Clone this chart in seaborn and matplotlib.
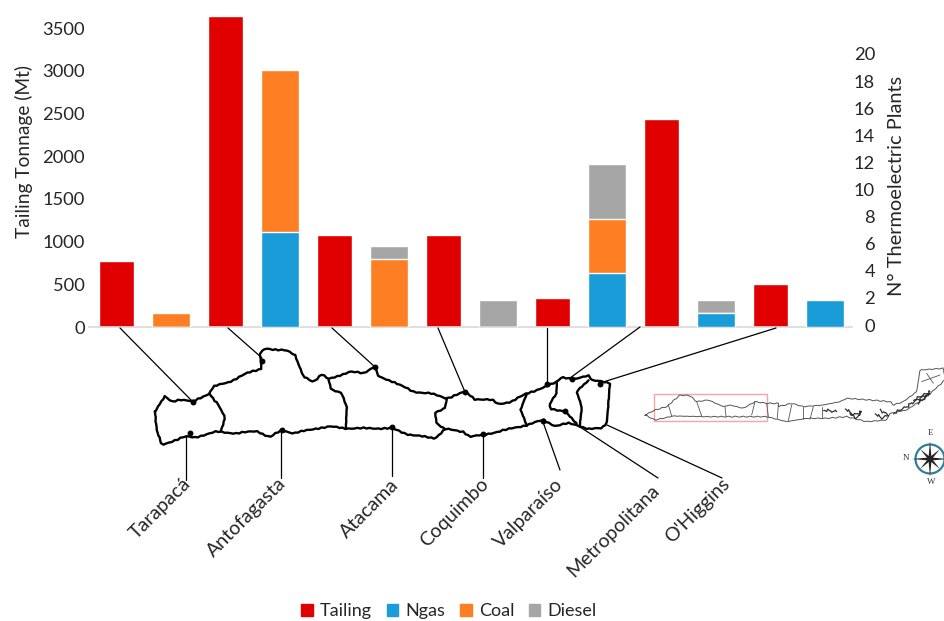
import numpy as np
import pandas as pd
import seaborn as sns
import matplotlib
matplotlib.use("Agg")
import matplotlib.pyplot as plt
from matplotlib.patches import Patch, Polygon, Rectangle, Circle
from matplotlib.transforms import ScaledTranslation

regions = ["Tarapacá", "Antofagasta", "Atacama", "Coquimbo", "Valparaíso", "Metropolitana", "O'Higgins"]
tailing = [770, 3640, 1080, 1080, 340, 2440, 500]
ngas = [0, 7, 0, 0, 4, 1, 2]
coal = [1, 12, 5, 0, 4, 0, 0]
diesel = [0, 0, 1, 2, 4, 1, 0]
left_ticks = [0, 500, 1000, 1500, 2000, 2500, 3000, 3500]
right_ticks = list(range(0, 21, 2))
colors = {"Tailing": "#E00000", "Ngas": "#1A9CD8", "Coal": "#FD7E23", "Diesel": "#A6A6A6"}

sns.set_theme(style="white")
plt.rcParams["font.family"] = ["Lato", "DejaVu Sans"]
TXT = "#262626"

W, H = 945, 621
fig = plt.figure(figsize=(W / 100, H / 100), dpi=100, facecolor="white")
ax = fig.add_axes([89.25 / W, 1 - 327 / H, 763 / W, 327 / H])
ax2 = ax.twinx()

slots = []
for r in regions:
    slots += [r + " tailing", r + " plants"]
df = pd.DataFrame({"slot": slots})
df["tailing"] = [v for t in tailing for v in (t, np.nan)]
n = np.array([v for t in ngas for v in (np.nan, t)], float)
c = np.array([v for t in coal for v in (np.nan, t)], float)
d = np.array([v for t in diesel for v in (np.nan, t)], float)
df["ngas"], df["ngas_coal"], df["total"] = n, n + c, n + c + d

sns.barplot(data=df, x="slot", y="tailing", order=slots, color=colors["Tailing"], width=0.63,
            saturation=1, ax=ax, errorbar=None)
for col, name in [("total", "Diesel"), ("ngas_coal", "Coal"), ("ngas", "Ngas")]:
    sns.barplot(data=df, x="slot", y=col, order=slots, color=colors[name], width=0.70,
                saturation=1, ax=ax2, errorbar=None)

ax.set_xlim(-0.5, 13.5)
ax.set_ylim(0, 327 / 0.0854)
ax2.set_ylim(0, 327 / 13.55)
ax.set_xticks([])
ax.set_xlabel("")
ax.set_ylabel("")
ax2.set_ylabel("")
ax.set_yticks(left_ticks)
ax2.set_yticks(right_ticks)
ax.tick_params(axis="y", length=0, pad=3, labelsize=13.2, labelcolor=TXT)
ax2.tick_params(axis="y", length=0, pad=16.5, labelsize=13.2, labelcolor=TXT)
for lab in ax2.get_yticklabels():
    lab.set_ha("right")
    lab.set_transform(lab.get_transform() + ScaledTranslation(0, 2 / 100, fig.dpi_scale_trans))
for a in (ax, ax2):
    for s in a.spines.values():
        s.set_visible(False)
ax.spines["bottom"].set_visible(True)
ax.spines["bottom"].set_color("#D9D9D9")
ax.spines["bottom"].set_linewidth(1.2)
ax.patch.set_alpha(0)

fig.text(24 / W, 1 - 151 / H, "Tailing Tonnage (Mt)", rotation=90, ha="center", va="center", fontsize=13.8, color=TXT)
fig.text(897 / W, 1 - 186 / H, "N° Thermoelectric Plants", rotation=90, ha="center", va="center", fontsize=14.4, color=TXT)

# overlay in pixel space for the map illustration
m = fig.add_axes([0, 0, 1, 1], facecolor="none")
m.set_xlim(0, W)
m.set_ylim(H, 0)
m.axis("off")

def rough(x, y, amp=0.8, step=3.0):
    """Give a hand-traced coastline look to a simplified outline."""
    d = np.r_[0, np.cumsum(np.hypot(np.diff(x), np.diff(y)))]
    s = np.arange(0, d[-1] + step, step)
    xs, ys = np.interp(s, d, x), np.interp(s, d, y)
    w = amp * (np.sin(s * 0.9) + 0.7 * np.sin(s * 2.3 + 1))
    return xs + 0.5 * w * np.cos(s * 0.37), ys + w

def z1(p):
    a = np.array(p, float)
    return 130 + a[:, 0] / 3, 330 + a[:, 1] / 3

def z2(p):
    a = np.array(p, float)
    return 640 + a[:, 0] / 3, 350 + a[:, 1] / 3

outline = [(75,245),(80,235),(105,200),(125,215),(150,208),(190,215),(238,190),(250,170),(300,155),(350,130),(395,115),
           (390,70),(405,55),(470,62),(495,75),(520,140),(550,155),(575,133),(595,148),(660,125),(700,130),(735,108),
           (745,140),(790,155),(850,185),(900,190),(950,205),(1005,185),(1035,207),(1085,210),(1105,222),(1145,215),
           (1190,190),(1250,170),(1280,155),(1295,140),(1330,150),(1375,135),(1385,150),(1440,160),(1430,280),(1415,295),
           (1375,297),(1340,285),(1315,280),(1275,288),(1240,270),(1190,285),(1060,315),(1020,320),(1000,305),(945,297),
           (915,325),(880,320),(830,312),(785,295),(700,295),(650,295),(600,290),(560,295),(490,310),(455,300),(420,322),
           (380,303),(320,310),(260,305),(195,322),(165,320),(95,345),(80,300),(75,245)]
borders = [[(238,190),(265,225),(285,262),(272,305)],
           [(595,148),(605,180),(635,190),(650,230),(648,295)],
           [(950,205),(945,235),(915,250),(920,280),(945,297)],
           [(1190,190),(1172,240),(1190,285)],
           [(1280,155),(1280,190),(1258,225),(1260,235),(1305,245),(1340,280)],
           [(1375,150),(1340,185),(1355,230),(1350,285)]]
for seg in [outline] + borders:
    x, y = rough(*z1(seg), amp=0.55)
    m.plot(x, y, color="black", lw=1.7, solid_joinstyle="round")

leaders = [((120,328),(193,402)), ((228,328),(262,358)), ((332,328),(375,367)), ((438,328),(465,392)),
           ((547,328),(547,384)), ((640,327),(570,378)), ((776,328),(600,383)),
           ((186,437),(186,480)), ((281,432),(281,478)), ((392,428),(392,476)), ((483,435),(483,478)),
           ((543,422),(560,470)), ((577,425),(658,478)), ((607,425),(722,478))]
for (x0, y0), (x1, y1) in leaders:
    m.plot([x0, x1], [y0, y1], color="black", lw=0.9)
dots = [(193,402),(262,361),(375,367),(465,392),(547,384),(572,379),(600,384),(190,433),(282,430),(392,427),(483,434),(543,421),(565,411)]
m.scatter(*zip(*dots), s=18, color="black", zorder=3, linewidths=0)

label_pos = [(160,508),(247,517),(369,509),(454,513),(529,513),(613,531),(698,511)]
for name, (x, y) in zip(regions, label_pos):
    m.text(x, y, name, rotation=45, ha="center", va="center", rotation_mode="anchor", fontsize=14, color=TXT)

# overview map
mini = [(15,195),(45,180),(80,170),(120,135),(150,137),(170,155),(205,150),(250,170),(270,165),(310,175),(345,155),(380,160),
        (415,160),(415,170),(455,160),(490,170),(550,165),(600,155),(620,145),(690,150),(750,155),(760,165),(790,155),
        (830,125),(840,60),(910,55),(915,90),(860,140),(800,180),(750,190),(740,210),(680,215),(620,200),(560,205),
        (500,205),(440,215),(380,200),(300,200),(200,200),(100,198),(45,210),(15,195)]
x, y = rough(*z2(mini), amp=0.35, step=2.0)
m.plot(x, y, color="#555555", lw=0.7)
for seg in [[(85,165),(95,198)],[(170,155),(185,198)],[(255,170),(258,200)],[(345,155),(335,195)],[(380,160),(385,200)],
            [(415,165),(412,205)],[(455,165),(445,212)],[(490,170),(490,208)],[(520,170),(510,208)],[(545,170),(545,205)],
            [(860,70),(880,100)],[(845,95),(900,75)]]:
    x, y = z2(seg)
    m.plot(x, y, color="#555555", lw=0.6)
for seg in [[(615,175),(640,195),(665,185),(650,205),(630,190)],[(705,190),(725,205),(745,195),(720,180)],
            [(760,190),(800,170),(830,150),(870,130),(835,160)],[(820,150),(870,125)],[(550,180),(590,185)]]:
    x, y = rough(*z2(seg), amp=1.0, step=1.5)
    m.plot(x, y, color="#333333", lw=0.9)
m.add_patch(Rectangle((654, 394), 113, 27, fill=False, ec="#F4A6A6", lw=1))

# compass rose
cx, cy = 930, 459
m.add_patch(Circle((cx, cy), 14.5, fill=False, ec="#2F7F9F", lw=1.6))
for i in range(8):
    ang = np.pi / 4 * i
    rr = 18 if i % 2 == 0 else 14
    tx, ty = cx + rr * np.cos(ang), cy + rr * np.sin(ang)
    px, py = -np.sin(ang) * 1.6, np.cos(ang) * 1.6
    m.add_patch(Polygon([(tx, ty), (cx + px, cy + py), (cx - px, cy - py)], color="#222222", lw=0))
for s, x, y in [("E", 931, 433), ("N", 906, 458), ("W", 931, 482)]:
    m.text(x, y, s, fontsize=6.5, family="Liberation Serif", ha="center", va="center", color="#333333")

handles = [Patch(color=colors[k], label=k) for k in colors]
fig.legend(handles=handles, loc="center", bbox_to_anchor=(449 / W, 1 - 611 / H), ncol=4, frameon=False, fontsize=13,
           handlelength=0.65, handleheight=0.65, handletextpad=0.4, columnspacing=0.8, labelcolor=TXT, borderpad=0)

fig.savefig("out.png", dpi=100)
